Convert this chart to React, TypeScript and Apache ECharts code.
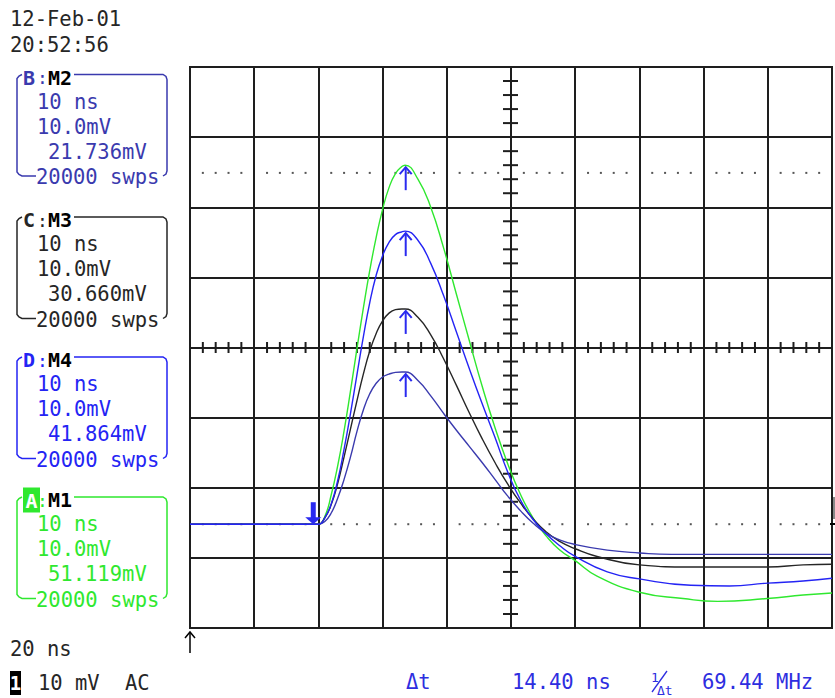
import React, { useEffect, useRef } from 'react';
import * as echarts from 'echarts';

// ---- Trace data (time in ns, amplitude in mV) ----
const tM1 = [0, 19, 20, 21, 22, 23, 24, 25, 26, 27, 28, 29, 30, 31, 32, 33, 33.5, 35.5, 37.5, 39.5, 41.5, 43.5, 45.5, 47.5, 49.5, 51.5, 53.5, 55.5, 57.5, 60, 63.4, 70, 76.8, 82.2, 89.9, 95.5, 100];
const vM1 = [-25.2, -25.2, -25.2, -24.1, -21.0, -16.9, -11.9, -6.2, -0.2, 5.6, 11.0, 15.7, 19.7, 22.8, 24.8, 25.8, 26.0, 24.0, 20.0, 14.2, 7.6, 1.0, -5.5, -11.4, -16.6, -21.0, -24.4, -26.9, -28.8, -30.4, -32.6, -34.9, -35.8, -36.2, -35.8, -35.3, -35.0];

const tM4 = [0, 19, 20, 21, 22, 23, 24, 25, 26, 27, 28, 29, 30, 31, 32, 33, 33.5, 35.5, 37.5, 39.5, 41.5, 43.5, 45.5, 47.5, 49.5, 51.5, 53.5, 55.5, 57.5, 60, 65, 70, 78, 84, 90, 95.5, 100];
const vM4 = [-25.2, -25.2, -25.2, -24.3, -22.3, -19.0, -14.5, -9.4, -3.9, 1.5, 6.4, 10.3, 13.1, 15.0, 16.1, 16.5, 16.6, 15.3, 12.0, 7.4, 2.2, -3.0, -8.0, -12.8, -17.8, -21.8, -24.6, -26.6, -28.2, -29.8, -32.0, -33.0, -33.9, -34.0, -33.6, -33.3, -32.9];

const tM3 = [0, 19, 20, 21, 22, 23, 24, 25, 26, 27, 28, 29, 30, 31, 32, 33, 33.5, 35.5, 37.5, 39.5, 41.5, 43.5, 45.5, 47.5, 49.5, 51.5, 53.5, 55.5, 57.5, 60, 63.4, 70, 78, 90, 95.5, 100];
const vM3 = [-25.2, -25.2, -25.2, -24.3, -22.4, -19.4, -15.6, -11.6, -7.6, -3.8, -0.5, 2.0, 3.8, 4.9, 5.4, 5.5, 5.5, 4.3, 1.8, -1.6, -5.4, -9.3, -13.0, -16.4, -19.5, -22.2, -24.5, -26.3, -27.6, -28.7, -29.8, -31.0, -31.3, -31.3, -31.0, -30.9];

const tM2 = [0, 19, 20, 21, 22, 23, 24, 25, 26, 27, 28, 29, 30, 31, 32, 33, 33.5, 35.5, 37.5, 39.5, 41.5, 43.5, 45.5, 47.5, 49.5, 51.5, 53.5, 55.5, 57.5, 60, 65, 70, 75, 100];
const vM2 = [-25.2, -25.2, -25.2, -24.8, -23.6, -21.5, -18.8, -15.6, -12.0, -8.9, -6.6, -5.1, -4.2, -3.8, -3.55, -3.5, -3.5, -4.7, -6.9, -9.4, -11.8, -14.1, -16.4, -18.8, -21.2, -23.3, -25.1, -26.5, -27.4, -28.1, -28.9, -29.3, -29.5, -29.5];

// cursors
const cursorT1 = 19.2;
const cursorT2 = 33.6;
const baselineMv = -25.2;
const peaksMv = [26.0, 16.6, 5.5, -3.5];
const dotLevels = [24.9, -25.2];

// axes
const tMin = 0, tMax = 100, tDiv = 10;
const vMin = -40, vMax = 40, vDiv = 10;

// labels
const boxLetters = ['B', 'C', 'D', 'A'];
const boxNames = ['M2', 'M3', 'M4', 'M1'];
const boxValues = ['21.736mV', '30.660mV', '41.864mV', '51.119mV'];
const boxTimebase = '10 ns';
const boxScale = '10.0mV';
const boxSweeps = '20000 swps';
const dateText = '12-Feb-01';
const timeText = '20:52:56';
const timebaseText = '20 ns';
const chanText = ['10 mV', 'AC'];
const dtLabel = 'Δt';
const dtValue = '14.40 ns';
const freqValue = '69.44 MHz';

const C_GREEN = '#2fe82f';
const C_BLUE = '#2424f4';
const C_BLACK = '#262626';
const C_DKBLUE = '#3a3aae';
const C_GRID = '#1e1e1e';
const C_ARROW = '#2a2af0';
const FONT = '"DejaVu Sans Mono", "Liberation Mono", monospace';

const zip = (t: number[], v: number[]) => t.map((x, i) => [x, v[i]]);

const minorT: number[] = [];
for (let t = tMin + 2; t < tMax; t += 2) if (t % tDiv !== 0) minorT.push(t);
const minorV: number[] = [];
for (let v = vMin + 2; v < vMax; v += 2) if (v % vDiv !== 0) minorV.push(v);

const txt = (text: string, x: number, y: number, fill: string, size = 20.5, weight = 'normal', align = 'left') => ({
  type: 'text', x, y, silent: true, z: 10,
  style: { text, fill, fontSize: size, fontFamily: FONT, fontWeight: weight, align, verticalAlign: 'middle' },
});
const pl = (points: number[][], stroke: string, lineWidth = 1.5) => ({
  type: 'polyline', silent: true, z: 10,
  shape: { points }, style: { stroke, lineWidth, fill: 'none' },
});

function buildGraphics() {
  const g: any[] = [];
  g.push(txt(dateText, 10, 19, C_BLACK));
  g.push(txt(timeText, 10, 44.5, C_BLACK));
  const colors = [C_DKBLUE, C_BLACK, C_BLUE, C_GREEN];
  const titleY = [77.5, 220, 360, 500];
  const lineOff = [24, 49, 74, 99.5];
  for (let i = 0; i < 4; i++) {
    const T = titleY[i];
    const col = colors[i];
    const top = T - 3;
    const bot = T + 98.5;
    g.push(pl([[22, top], [19, top + 1.5], [17, top + 4], [17, bot - 4], [19, bot - 1.5], [22, bot], [36, bot]], col));
    g.push(pl([[74, top], [163, top], [166, top + 2], [167, top + 5], [167, bot - 5], [166, bot - 2], [163, bot]], col));
    if (boxLetters[i] === 'A') {
      g.push({ type: 'rect', silent: true, z: 10, shape: { x: 23, y: T - 12.5, width: 17, height: 25 }, style: { fill: col } });
      g.push(txt('A', 31.5, T + 1, '#ffffff', 20, 'bold', 'center'));
    } else {
      g.push(txt(boxLetters[i], 23, T, col, 20, 'bold'));
    }
    g.push(txt(':', 37, T, col, 18));
    g.push(txt(boxNames[i], 48, T, '#000000', 20, 'bold'));
    g.push(txt(boxTimebase, 37, T + lineOff[0], col));
    g.push(txt(boxScale, 37, T + lineOff[1], col));
    g.push(txt(boxValues[i], 48, T + lineOff[2], col));
    g.push(txt(boxSweeps, 36, T + lineOff[3], col));
  }
  g.push(txt(timebaseText, 10, 648.5, C_BLACK));
  g.push({ type: 'rect', silent: true, z: 10, shape: { x: 10, y: 671, width: 11, height: 24 }, style: { fill: '#000' } });
  g.push(txt('1', 15.5, 683, '#ffffff', 19, 'bold', 'center'));
  g.push(txt(chanText[0], 38, 682.5, C_BLACK));
  g.push(txt(chanText[1], 125, 682.5, C_BLACK));
  g.push({ type: 'line', silent: true, z: 10, shape: { x1: 190, y1: 653, x2: 190, y2: 632 }, style: { stroke: '#000', lineWidth: 1.5 } });
  g.push(pl([[185, 638], [190, 632], [195, 638]], '#000'));
  g.push({ type: 'line', silent: true, z: 10, shape: { x1: 834, y1: 497, x2: 834, y2: 519 }, style: { stroke: '#888', lineWidth: 2 } });
  g.push({ type: 'line', silent: true, z: 10, shape: { x1: 830, y1: 524, x2: 835, y2: 524 }, style: { stroke: '#000', lineWidth: 2 } });
  const cb = '#2e2ee0';
  g.push(txt(dtLabel, 406, 682, cb));
  g.push(txt(dtValue, 512, 682, cb));
  g.push(txt('1', 651, 677, cb, 13));
  g.push({ type: 'line', silent: true, z: 10, shape: { x1: 652, y1: 692, x2: 667, y2: 671 }, style: { stroke: cb, lineWidth: 1.3 } });
  g.push(txt(dtLabel, 657, 690, cb, 13));
  g.push(txt(freqValue, 702, 682, cb));
  return g;
}

export default function App() {
  const ref = useRef<HTMLDivElement>(null);
  useEffect(() => {
    if (!ref.current) return;
    const chart = echarts.init(ref.current, null, { renderer: 'svg' });
    const lineSeries = (name: string, data: number[][], color: string) => ({
      name, type: 'line', data, showSymbol: false, symbol: 'none',
      smooth: 0.5, z: 4,
      lineStyle: { color, width: 1.4 }, itemStyle: { color }, silent: true,
    });
    const option: any = {
      animation: false,
      backgroundColor: '#ffffff',
      grid: {
        left: 190, top: 67, width: 642, height: 561,
        show: true, borderColor: C_GRID, borderWidth: 2, backgroundColor: 'transparent',
        outerBoundsMode: 'none',
      },
      xAxis: {
        type: 'value', min: tMin, max: tMax, interval: tDiv,
        axisLabel: { show: false }, axisTick: { show: false }, axisLine: { show: false },
        splitLine: { show: true, lineStyle: { color: C_GRID, width: 2 } },
      },
      yAxis: {
        type: 'value', min: vMin, max: vMax, interval: vDiv,
        axisLabel: { show: false }, axisTick: { show: false }, axisLine: { show: false },
        splitLine: { show: true, lineStyle: { color: C_GRID, width: 2 } },
      },
      series: [
        {
          name: 'dots', type: 'custom', silent: true, z: 2,
          data: dotLevels.flatMap((lv) => minorT.map((t) => [t, lv])),
          renderItem: (_p: any, api: any) => {
            const c = api.coord([api.value(0), api.value(1)]);
            return { type: 'rect', shape: { x: c[0] - 1, y: c[1] - 1, width: 2, height: 2 }, style: { fill: '#555' } };
          },
        },
        {
          name: 'xticks', type: 'custom', silent: true, z: 3,
          data: minorT.map((t) => [t, 0]),
          renderItem: (_p: any, api: any) => {
            const c = api.coord([api.value(0), api.value(1)]);
            return { type: 'line', shape: { x1: c[0], y1: c[1] - 5.5, x2: c[0], y2: c[1] + 5.5 }, style: { stroke: C_GRID, lineWidth: 2 } };
          },
        },
        {
          name: 'yticks', type: 'custom', silent: true, z: 3,
          data: minorV.map((v) => [(tMin + tMax) / 2, v]),
          renderItem: (_p: any, api: any) => {
            const c = api.coord([api.value(0), api.value(1)]);
            return { type: 'line', shape: { x1: c[0] - 8, y1: c[1], x2: c[0] + 7, y2: c[1] }, style: { stroke: C_GRID, lineWidth: 2 } };
          },
        },
        lineSeries('M1', zip(tM1, vM1), C_GREEN),
        lineSeries('M3', zip(tM3, vM3), C_BLACK),
        lineSeries('M2', zip(tM2, vM2), C_DKBLUE),
        lineSeries('M4', zip(tM4, vM4), C_BLUE),
        {
          name: 'upArrows', type: 'custom', silent: true, z: 6,
          data: peaksMv.map((v) => [cursorT2, v]),
          renderItem: (_p: any, api: any) => {
            const c = api.coord([api.value(0), api.value(1)]);
            const x = c[0], y = c[1] + 2;
            return {
              type: 'group', children: [
                { type: 'line', shape: { x1: x, y1: y, x2: x, y2: y + 23 }, style: { stroke: C_ARROW, lineWidth: 2 } },
                { type: 'polyline', shape: { points: [[x - 6, y + 7], [x, y], [x + 6, y + 7]] }, style: { stroke: C_ARROW, lineWidth: 2, fill: 'none' } },
              ],
            };
          },
        },
        {
          name: 'downArrow', type: 'custom', silent: true, z: 6,
          data: [[cursorT1, baselineMv]],
          renderItem: (_p: any, api: any) => {
            const c = api.coord([api.value(0), api.value(1)]);
            const x = c[0], y = c[1];
            return {
              type: 'group', children: [
                { type: 'rect', shape: { x: x - 2.5, y: y - 22, width: 5, height: 16 }, style: { fill: C_ARROW } },
                { type: 'polygon', shape: { points: [[x - 8, y - 7], [x + 8, y - 7], [x, y]] }, style: { fill: C_ARROW } },
              ],
            };
          },
        },
      ],
      graphic: buildGraphics(),
    };
    chart.setOption(option);
    return () => chart.dispose();
  }, []);
  return <div ref={ref} style={{ position: 'absolute', left: 0, top: 0, width: 835, height: 698, background: '#fff' }} />;
}
